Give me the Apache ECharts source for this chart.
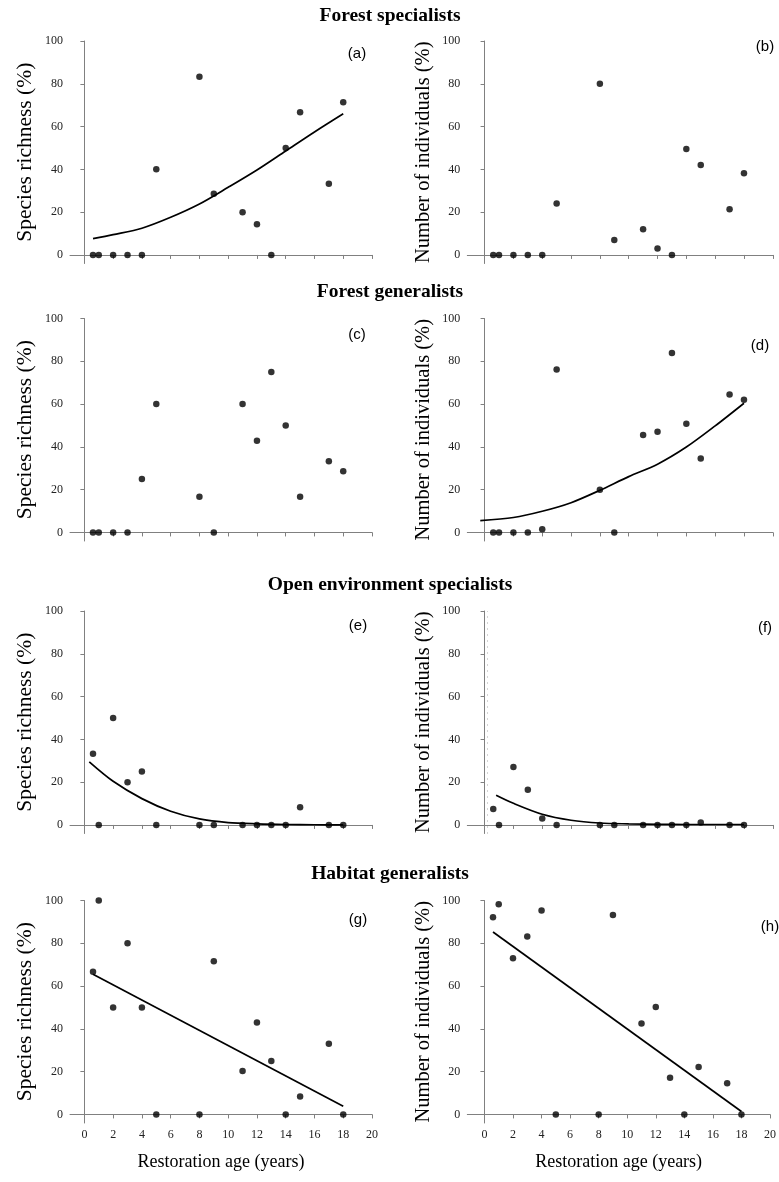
<!DOCTYPE html>
<html lang="en">
<head>
<meta charset="UTF-8">
<title>Restoration age</title>
<style>
  body { margin: 0; background: #fff; }
  #chart { width: 779px; height: 1182px; }
</style>
</head>
<body>
<div id="chart"></div>
<script src="https://cdn.jsdelivr.net/npm/echarts@6/dist/echarts.min.js"></script>
<script>
// restoration age of the 15 sites (years)
var ages = [0.6, 1, 2, 3, 4, 5, 8, 9, 11, 12, 13, 14, 15, 17, 18];

// percentages per site, same order as ages
var fsRichness    = [0, 0, 0, 0, 0, 40, 83.3, 28.6, 20, 14.3, 0, 50, 66.7, 33.3, 71.4];
var fsIndividuals = [0, 0, 0, 0, 0, 24, 80, 7, 12, 3, 0, 49.5, 42, 21.3, 38.2];
var fgRichness    = [0, 0, 0, 0, 25, 60, 16.7, 0, 60, 42.9, 75, 50, 16.7, 33.3, 28.6];
var fgIndividuals = [0, 0, 0, 0, 1.5, 76.2, 20, 0, 45.5, 47.1, 83.9, 50.8, 34.6, 64.5, 62];
var oeRichness    = [33.3, 0, 50, 20, 25, 0, 0, 0, 0, 0, 0, 0, 8.3, 0, 0];
var oeIndividuals = [7.5, 0, 27.1, 16.5, 3, 0, 0, 0, 0, 0, 0, 0, 1.2, 0, 0];
var hgRichness    = [66.7, 100, 50, 80, 50, 0, 0, 71.6, 20.3, 43, 25, 0, 8.4, 33.1, 0];
var hgIndividuals = [92.2, 98.3, 73, 83.2, 95.3, 0, 0, 93.2, 42.5, 50.2, 17.1, 0, 22.2, 14.6, 0];

// fitted trend lines
var trendAx = [0.6, 2, 4, 6, 8, 10, 12, 14, 16, 18];
var trendAy = [7.6, 9.5, 12.5, 17.6, 23.8, 31.6, 39.7, 48.6, 57.5, 66];
var trendDx = [-0.3, 2, 4, 6, 8, 10, 12, 14, 16, 18];
var trendDy = [5.5, 7.0, 9.9, 13.9, 19.7, 26.1, 31.9, 39.9, 49.8, 60.4];
var trendEx = [0.34, 2, 4, 6, 8, 10, 12, 14, 16, 18];
var trendEy = [29.5, 20.4, 12.3, 6.4, 2.8, 1.1, 0.5, 0.2, 0.1, 0];
var trendFx = [0.8, 2, 4, 6, 8, 10, 12, 14, 16, 18];
var trendFy = [13.9, 10.1, 5.0, 2.2, 0.9, 0.5, 0.3, 0.2, 0.2, 0.2];
var trendGx = [0.6, 18];
var trendGy = [65.5, 3.8];
var trendHx = [0.6, 18];
var trendHy = [85.3, 1.4];

var xTicks = [0, 2, 4, 6, 8, 10, 12, 14, 16, 18, 20];
var yTicks = [0, 20, 40, 60, 80, 100];

var groupTitles = ['Forest specialists', 'Forest generalists', 'Open environment specialists', 'Habitat generalists'];
var panelLabels = ['(a)', '(b)', '(c)', '(d)', '(e)', '(f)', '(g)', '(h)'];
var yNames = ['Species richness (%)', 'Number of individuals (%)'];
var xName = 'Restoration age (years)';

var panels = [
    { vals: fsRichness, tx: trendAx, ty: trendAy },
    { vals: fsIndividuals },
    { vals: fgRichness },
    { vals: fgIndividuals, tx: trendDx, ty: trendDy },
    { vals: oeRichness, tx: trendEx, ty: trendEy },
    { vals: oeIndividuals, tx: trendFx, ty: trendFy, dotted: true },
    { vals: hgRichness, tx: trendGx, ty: trendGy },
    { vals: hgIndividuals, tx: trendHx, ty: trendHy }
];

// layout
var rowTop = [41, 318.5, 611, 900.5];
var rowH = 222.5;
var cols = [
    { left: 70, width: 302, min: -1, nameSize: 21.5, nameGap: 34 },
    { left: 467.3, width: 305.5, min: -1.2, nameSize: 20.5, nameGap: 33 }
];
var titleY = [16, 292, 585, 873.5];
var labelPos = [[357, 54], [765, 47], [357, 335], [760, 346], [358, 626], [765, 628], [358, 920], [770, 927]];

var serif = 'Liberation Serif';
var axisGray = '#808080';

var grids = [], xAxes = [], yAxes = [], series = [], graphics = [];

panels.forEach(function (p, i) {
    var row = Math.floor(i / 2), col = cols[i % 2];
    var bottomRow = row === 3;
    grids.push({ left: col.left, top: rowTop[row], width: col.width, height: rowH });
    xAxes.push({
        gridIndex: i, type: 'value', min: col.min, max: 20,
        axisLine: { lineStyle: { color: axisGray } },
        axisTick: { show: true, length: 4, customValues: xTicks, lineStyle: { color: axisGray } },
        axisLabel: {
            show: bottomRow, customValues: xTicks, margin: 6,
            fontFamily: serif, fontSize: 12, color: '#222'
        },
        splitLine: { show: false },
        name: bottomRow ? xName : '', nameLocation: 'middle', nameGap: 30,
        nameTextStyle: { fontFamily: serif, fontSize: 18, color: '#000' }
    });
    yAxes.push({
        gridIndex: i, type: 'value', min: -4, max: 100,
        axisLine: { show: true, lineStyle: { color: axisGray } },
        axisTick: { show: true, length: 4, customValues: yTicks, lineStyle: { color: axisGray } },
        axisLabel: { customValues: yTicks, margin: 7, fontFamily: serif, fontSize: 12, color: '#222' },
        splitLine: { show: false },
        name: yNames[i % 2], nameLocation: 'middle', nameGap: col.nameGap,
        nameTextStyle: { fontFamily: serif, fontSize: col.nameSize, color: '#000' }
    });
    var sc = {
        type: 'scatter', xAxisIndex: i, yAxisIndex: i,
        symbolSize: 6.5, itemStyle: { color: '#000' },
        data: ages.map(function (a, k) { return [a, p.vals[k]]; }),
        z: 3
    };
    if (p.dotted) {
        // faint dotted guide left in the original figure
        sc.markLine = {
            silent: true, symbol: 'none', label: { show: false },
            lineStyle: { type: [1, 5], color: '#a8a8a8', width: 1, opacity: 1 },
            data: [{ xAxis: 0.15 }]
        };
    }
    series.push(sc);
    if (p.tx) {
        series.push({
            type: 'line', xAxisIndex: i, yAxisIndex: i,
            smooth: p.tx.length > 2 ? 0.3 : false, showSymbol: false,
            lineStyle: { color: '#000', width: 1.7 },
            data: p.tx.map(function (x, k) { return [x, p.ty[k]]; }),
            z: 2
        });
    }
    graphics.push({
        type: 'text', x: labelPos[i][0], y: labelPos[i][1],
        style: {
            text: panelLabels[i], fill: '#000', font: '15px "Liberation Sans"',
            textAlign: 'center', textVerticalAlign: 'middle'
        }
    });
});

groupTitles.forEach(function (t, r) {
    graphics.push({
        type: 'text', x: 390, y: titleY[r],
        style: {
            text: t, fill: '#000', font: 'bold 19.5px "Liberation Serif"',
            textAlign: 'center', textVerticalAlign: 'middle'
        }
    });
});

var myChart = echarts.init(document.getElementById('chart'));
myChart.setOption({
    animation: false,
    backgroundColor: '#fff',
    grid: grids,
    xAxis: xAxes,
    yAxis: yAxes,
    series: series,
    graphic: graphics
});
</script>
</body>
</html>
